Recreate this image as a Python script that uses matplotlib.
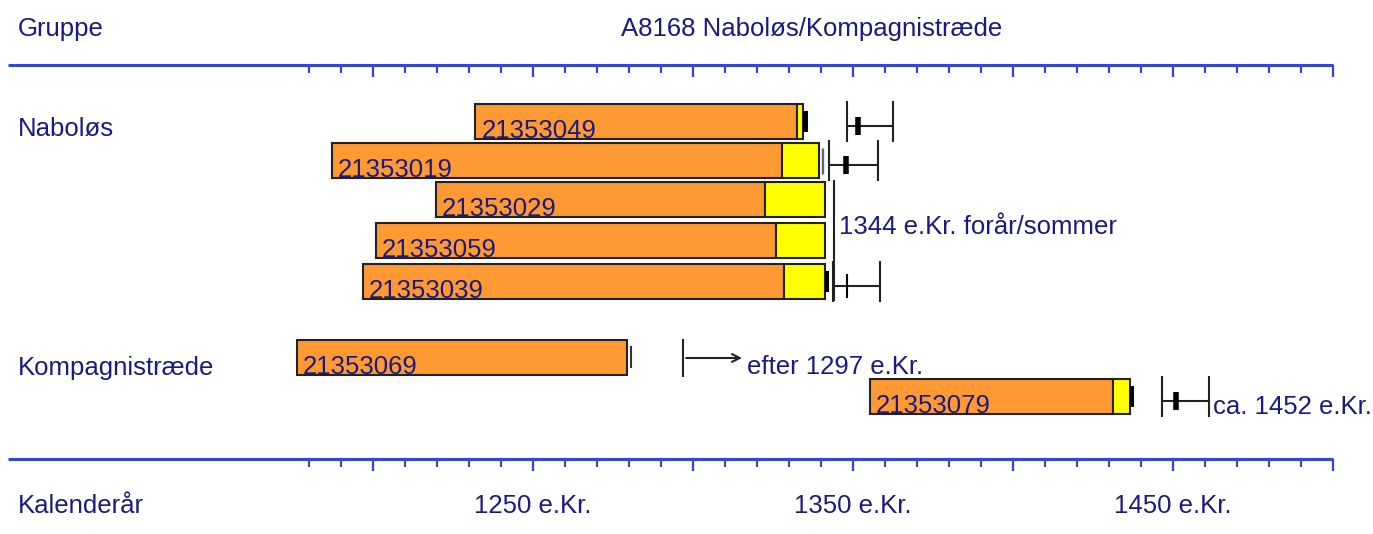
import numpy as np
import matplotlib
matplotlib.use('Agg')
import matplotlib.pyplot as plt

plt.rcParams['font.family'] = ['Liberation Sans', 'DejaVu Sans']

# sample data (years e.Kr.)
samples = ['21353049', '21353019', '21353029', '21353059', '21353039', '21353069', '21353079']
start_year = [1232, 1187.2, 1219.6, 1200.8, 1196.9, 1176.2, 1355.3]
heart_end = [1332.6, 1327.9, 1322.5, 1325.8, 1328.4, 1279.3, 1431.3]
sap_end = [1334.5, 1339.4, 1341.3, 1341.3, 1341.3, 1279.3, 1436.6]
has_bark = [True, False, False, False, True, False, True]

# felling estimates: row index -> (lower, best, upper)
fell_rows = [0, 1, 4, 6]
fell_low = [1348.0, 1342.5, 1343.8, 1446.7]
fell_best = [1351.5, 1347.7, 1348.0, 1451.0]
fell_high = [1362.5, 1357.7, 1358.4, 1461.3]
fell_thick = [True, True, False, True]

group_names = ['Naboløs', 'Kompagnistræde']
group_date = 1344
group_text = '1344 e.Kr. forår/sommer'
after_year = 1297
after_text = 'efter 1297 e.Kr.'
ca_text = 'ca. 1452 e.Kr.'
tick_labels = {1250: '1250 e.Kr.', 1350: '1350 e.Kr.', 1450: '1450 e.Kr.'}

navy = '#1a1a80'
axis_blue = '#3545d5'
orange = '#ff9933'
yellow = '#ffff00'
fs = 18.5

# pixel layout: x_px = 533 + (year - 1250) * 3.2
ppy = 3.2
x0 = 1250 - 533 / ppy
x1 = 1250 + (1373 - 533) / ppy

fig = plt.figure(figsize=(13.73, 5.34), dpi=100)
ax = fig.add_axes([0, 0, 1, 1])
ax.set_xlim(x0, x1)
ax.set_ylim(534, 0)
ax.axis('off')

row_top = [104, 143, 182, 223, 264, 340, 379]
bar_h = 35

# axes (top and bottom)
ax_start = 1250 - (533 - 8) / ppy
for yy in [65, 459]:
    ax.hlines(yy, ax_start, 1500, color=axis_blue, lw=2.2)
    for t in range(1180, 1501, 10):
        ln = 12 if t % 50 == 0 else 8
        ax.vlines(t, yy, yy + ln, color=axis_blue, lw=1.6)

for t, lab in tick_labels.items():
    ax.text(t, 506, lab, ha='center', va='center', color=navy, fontsize=fs)

x_text = x0 + 18 / ppy
ax.text(x_text, 29, 'Gruppe', va='center', color=navy, fontsize=fs)
ax.text(1250 + (812 - 533) / ppy, 29, 'A8168 Naboløs/Kompagnistræde', ha='center', va='center',
        color=navy, fontsize=fs)
ax.text(x_text, 129, group_names[0], va='center', color=navy, fontsize=fs)
ax.text(x_text, 368, group_names[1], va='center', color=navy, fontsize=fs)
ax.text(x_text, 506, 'Kalenderår', va='center', color=navy, fontsize=fs)

# bars
for i, name in enumerate(samples):
    top = row_top[i]
    yc = top + bar_h / 2
    z = 3 + 2 * i
    ax.barh(yc, heart_end[i] - start_year[i], left=start_year[i], height=bar_h,
            color=orange, edgecolor='#222222', lw=1.5, zorder=z)
    if sap_end[i] > heart_end[i]:
        ax.barh(yc, sap_end[i] - heart_end[i], left=heart_end[i], height=bar_h,
                color=yellow, edgecolor='#222222', lw=1.5, zorder=z)
    if has_bark[i]:
        ax.barh(yc, 1.3, left=sap_end[i], height=bar_h * 0.6,
                color='black', lw=0, zorder=z)
    ax.text(start_year[i] + 6 / ppy, top + bar_h - 1, name, va='baseline', ha='left',
            color=navy, fontsize=fs, zorder=z + 1)

# thin end marks
ax.vlines([1340.2, 1340.7], 148, 174, color='#666666', lw=1, zorder=20)
ax.vlines(1280.5, 346, 368, color='#333333', lw=1.5, zorder=20)

# felling estimate ranges
for k, r in enumerate(fell_rows):
    top = row_top[r]
    yc = top + bar_h / 2 + 4
    ax.vlines([fell_low[k], fell_high[k]], top - 3, top + bar_h + 3, color='#222222', lw=1.5, zorder=20)
    ax.hlines(yc, fell_low[k], fell_high[k], color='#222222', lw=1.5, zorder=20)
    if fell_thick[k]:
        ax.vlines(fell_best[k], yc - 9, yc + 9, color='black', lw=4, zorder=20)
    else:
        ax.vlines(fell_best[k], yc - 12, yc + 12, color='black', lw=1.5, zorder=20)

# group date line
ax.vlines(group_date, 180, row_top[4] + bar_h + 2, color='#222222', lw=1.5, zorder=20)
ax.text(group_date + 5 / ppy, 227, group_text, va='center', color=navy, fontsize=fs)

# "after" arrow
ax.vlines(after_year, 339, 377, color='#222222', lw=1.5)
ax.annotate('', xy=(1316.2, 358), xytext=(after_year, 358),
            arrowprops=dict(arrowstyle='->', color='#222222', lw=1.5, mutation_scale=14))
ax.text(1317, 374, after_text, va='baseline', color=navy, fontsize=fs, zorder=1)

ax.text(fell_high[3] + 4 / ppy, 414, ca_text, va='baseline', color=navy, fontsize=fs)

fig.savefig('out.png', dpi=100, facecolor='white')
